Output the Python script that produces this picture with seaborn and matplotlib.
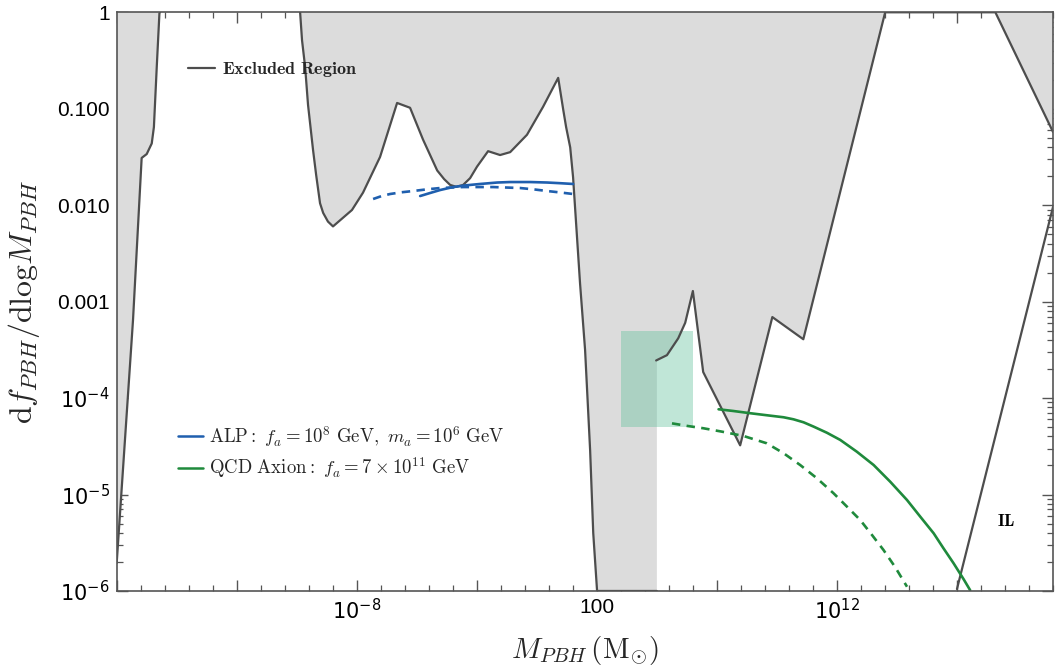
import numpy as np
import pandas as pd
import matplotlib
matplotlib.use("Agg")
import matplotlib.pyplot as plt
import matplotlib.ticker as mticker
from matplotlib.patches import Rectangle
import seaborn as sns

# ---------------------------------------------------------------------------
# Data (log10 of PBH mass in solar masses, log10 of df/dlogM)
# ---------------------------------------------------------------------------
# excluded-region boundary: light-mass end
excl_a_logm = [-18.00, -17.32, -16.96, -16.75, -16.54, -16.45, -16.33, -16.22, -16.20]
excl_a_logf = [-5.71, -3.19, -1.51, -1.47, -1.36, -1.19, -0.56, -0.01, 0.00]

# excluded-region boundary: microlensing / intermediate window
excl_b_logm = [-10.36, -10.28, -10.15, -10.03, -9.82, -9.69, -9.53, -9.40, -9.20,
               -8.99, -8.20, -7.74, -7.03, -6.32, -5.78, -5.24, -4.65, -4.36,
               -4.11, -3.85, -3.57, -3.28, -2.99, -2.53, -2.03, -1.61, -0.91,
               -0.24, 0.39, 0.60, 0.72, 0.89, 1.01, 1.30, 1.51, 1.72, 1.85,
               2.01, 4.50]
excl_b_logf = [0.00, -0.29, -0.57, -0.96, -1.43, -1.69, -1.98, -2.08, -2.17,
               -2.22, -2.05, -1.87, -1.50, -0.94, -0.99, -1.32, -1.64, -1.73,
               -1.79, -1.81, -1.79, -1.72, -1.60, -1.44, -1.48, -1.45, -1.27,
               -0.98, -0.68, -1.01, -1.19, -1.40, -1.71, -2.81, -3.50, -4.54, -5.40,
               -6.00, -6.00]

# excluded-region boundary: heavy end
excl_c_logm = [4.47, 4.92, 5.39, 5.68, 6.00, 6.43, 7.97, 9.31, 10.60, 14.01, 18.60, 21.00]
excl_c_logf = [-3.61, -3.555, -3.38, -3.22, -2.89, -3.73, -4.49, -3.16, -3.39, 0.00, 0.00, -1.24]

# unconstrained band reaching the bottom of the plot
band_logm = [2.01, 4.50]

# IL limit line
il_logm = [17.0, 21.0]
il_logf = [-5.98, -2.02]

# ALP spectrum (solid / dashed)
alp_solid_logm = [-5.36, -4.95, -4.53, -3.99, -3.49, -2.86, -2.15, -1.61, -0.78, -0.07, 0.47, 1.01]
alp_solid_logf = [-1.905, -1.874, -1.843, -1.812, -1.795, -1.780, -1.765, -1.760, -1.760, -1.765, -1.772, -1.780]
alp_dash_logm = [-7.32, -6.96, -6.61, -6.13, -5.65, -5.09, -4.53, -3.57, -2.32, -1.20, -0.63, -0.07, 0.47, 1.01]
alp_dash_logf = [-1.936, -1.905, -1.884, -1.866, -1.853, -1.836, -1.822, -1.812, -1.812, -1.822, -1.836, -1.853, -1.868, -1.884]

# QCD axion spectrum (solid / dashed)
qcd_solid_logm = [7.07, 7.69, 8.39, 9.08, 9.78, 10.19, 10.61, 11.03, 11.58, 12.14,
                  12.83, 13.53, 14.22, 14.92, 15.47, 16.03, 16.44, 16.86, 17.28, 17.55]
qcd_solid_logf = [-4.116, -4.134, -4.157, -4.178, -4.199, -4.220, -4.251, -4.296, -4.359, -4.434,
                  -4.556, -4.694, -4.867, -5.057, -5.229, -5.402, -5.558, -5.713, -5.879, -5.992]
qcd_dash_logm = [5.13, 5.80, 6.44, 7.21, 8.11, 9.08, 9.78, 10.47, 11.17, 11.86,
                 12.42, 12.97, 13.46, 13.94, 14.43, 14.92]
qcd_dash_logf = [-4.262, -4.290, -4.313, -4.348, -4.393, -4.469, -4.572, -4.694, -4.832, -4.987,
                 -5.126, -5.264, -5.419, -5.575, -5.754, -5.956]

# highlighted box (mass range, abundance range)
box_m = [1e3, 1e6]
box_f = [5e-5, 5e-4]

xlim = (1e-18, 1e21)
ylim = (1e-6, 1.0)
y_tick_vals = [1.0, 0.1, 0.01, 0.001, 1e-4, 1e-5, 1e-6]
y_tick_text = ["1", "0.100", "0.010", "0.001", "$10^{-4}$", "$10^{-5}$", "$10^{-6}$"]
x_label_vals = [1e-8, 1e2, 1e12]
x_label_text = ["$10^{-8}$", "100", "$10^{12}$"]

alp_label = r"$\mathrm{ALP{:}}\ f_a = 10^8\ \mathrm{GeV},\ m_a = 10^6\ \mathrm{GeV}$"
qcd_label = r"$\mathrm{QCD\ Axion{:}}\ f_a = 7\times 10^{11}\ \mathrm{GeV}$"
excl_label = r"$\mathbf{Excluded\ Region}$"


def p10(v):
    return np.power(10.0, np.asarray(v, dtype=float))


# ---------------------------------------------------------------------------
# Style
# ---------------------------------------------------------------------------
sns.set_theme(style="ticks")
plt.rcParams["font.family"] = ["Liberation Sans", "DejaVu Sans"]
plt.rcParams["mathtext.fontset"] = "cm"
plt.rcParams["axes.unicode_minus"] = True

FILL = "#dcdcdc"
EDGE = "#4d4d4d"
BLUE = "#1f5fae"
GREEN = "#1f8a3c"
BOX = "#62c19d"
AXC = "#555555"

fig = plt.figure(figsize=(10.57, 6.68), dpi=100)
ax = fig.add_axes([0.1104, 0.1153, 0.8858, 0.8663])
ax.set_xscale("log")
ax.set_yscale("log")
ax.set_xlim(*xlim)
ax.set_ylim(*ylim)

# --- excluded regions (fills) ---
a_m, a_f = p10(excl_a_logm), p10(excl_a_logf)
ax.fill(np.r_[a_m, xlim[0], xlim[0]], np.r_[a_f, 10.0, a_f[0]],
        color=FILL, lw=0, zorder=1)

b_m, b_f = p10(excl_b_logm), p10(excl_b_logf)
c_m, c_f = p10(excl_c_logm), p10(excl_c_logf)
mid_poly_m = np.r_[b_m[:-1], b_m[-2], p10(band_logm[1]), p10(band_logm[1]), c_m[:-2],
                   c_m[-3], b_m[0]]
mid_poly_f = np.r_[b_f[:-1], 1e-7, 1e-7, c_f[0], c_f[:-2], 10.0, 10.0]
ax.fill(mid_poly_m, mid_poly_f, color=FILL, lw=0, zorder=1)

ax.fill(np.r_[c_m[-2], c_m[-1], xlim[1], c_m[-2]],
        np.r_[c_f[-2], c_f[-1], 10.0, 10.0],
        color=FILL, lw=0, zorder=1)

# --- highlighted box ---
ax.add_patch(Rectangle((box_m[0], box_f[0]), box_m[1] - box_m[0], box_f[1] - box_f[0],
                       facecolor=BOX, alpha=0.4, lw=0, zorder=2))

# --- boundary lines ---
lw_edge = 1.6
for lm, lf in [(excl_a_logm, excl_a_logf), (excl_b_logm, excl_b_logf),
               (excl_c_logm, excl_c_logf), (il_logm, il_logf)]:
    sns.lineplot(x=p10(lm), y=p10(lf), ax=ax, color=EDGE, lw=lw_edge,
                 sort=False, estimator=None, zorder=3)

# --- spectra ---
dash = (0, (3.2, 2.4))
sns.lineplot(x=p10(alp_solid_logm), y=p10(alp_solid_logf), ax=ax, color=BLUE,
             lw=1.9, sort=False, estimator=None, zorder=4)
sns.lineplot(x=p10(alp_dash_logm), y=p10(alp_dash_logf), ax=ax, color=BLUE,
             lw=1.9, sort=False, estimator=None, zorder=4, linestyle=dash)
sns.lineplot(x=p10(qcd_solid_logm), y=p10(qcd_solid_logf), ax=ax, color=GREEN,
             lw=1.9, sort=False, estimator=None, zorder=4)
sns.lineplot(x=p10(qcd_dash_logm), y=p10(qcd_dash_logf), ax=ax, color=GREEN,
             lw=1.9, sort=False, estimator=None, zorder=4, linestyle=dash)

ax.text(10 ** 19.05, 10 ** -5.27, r"$\mathbf{IL}$", fontsize=12.5,
        ha="center", va="center", color="black", zorder=5)

# --- legends ---
h_ex = plt.Line2D([], [], color=EDGE, lw=1.6)
leg1 = ax.legend([h_ex], [excl_label], loc="upper left", bbox_to_anchor=(0.068, 0.93),
                 frameon=False, fontsize=13, handlelength=1.5, handletextpad=0.4,
                 borderaxespad=0.0)
ax.add_artist(leg1)
h_alp = plt.Line2D([], [], color=BLUE, lw=1.8)
h_qcd = plt.Line2D([], [], color=GREEN, lw=1.8)
ax.legend([h_alp, h_qcd], [alp_label, qcd_label], loc="upper left",
          bbox_to_anchor=(0.058, 0.302), frameon=False, fontsize=13.5,
          handlelength=1.3, handletextpad=0.35, labelspacing=0.35, borderaxespad=0.0)

# --- axes / ticks ---
for s in ax.spines.values():
    s.set_color(AXC)
    s.set_linewidth(1.2)
    s.set_zorder(6)

x_major = p10(np.arange(-18, 22, 5))
ax.xaxis.set_major_locator(mticker.FixedLocator(x_major))
ax.xaxis.set_minor_locator(mticker.FixedLocator(p10(np.arange(-18, 22, 1))))
ax.xaxis.set_minor_formatter(mticker.NullFormatter())
x_major_labels = []
for v in x_major:
    hit = [t for xv, t in zip(x_label_vals, x_label_text) if np.isclose(np.log10(v), np.log10(xv))]
    x_major_labels.append(hit[0] if hit else "")
ax.xaxis.set_major_formatter(mticker.FixedFormatter(x_major_labels))

ax.yaxis.set_major_locator(mticker.FixedLocator(y_tick_vals))
ax.yaxis.set_major_formatter(mticker.FixedFormatter(y_tick_text))
ax.yaxis.set_minor_locator(mticker.LogLocator(base=10, subs=np.arange(2, 10), numticks=20))
ax.yaxis.set_minor_formatter(mticker.NullFormatter())

ax.tick_params(which="both", direction="in", top=True, right=True, color=AXC,
               labelcolor="black", labelsize=15, pad=5)
ax.tick_params(which="major", length=8, width=1.0)
ax.tick_params(which="minor", length=4.5, width=0.9)
for lab in ax.get_xticklabels() + ax.get_yticklabels():
    lab.set_math_fontfamily("dejavusans")

ax.set_xlabel(r"$M_{PBH}\,(\mathrm{M}_{\odot})$", fontsize=21, labelpad=8)
ax.set_ylabel(r"$\mathrm{d}f_{PBH}/\mathrm{dlog}M_{PBH}$", fontsize=23, labelpad=11)

fig.savefig("out.png", dpi=100)
